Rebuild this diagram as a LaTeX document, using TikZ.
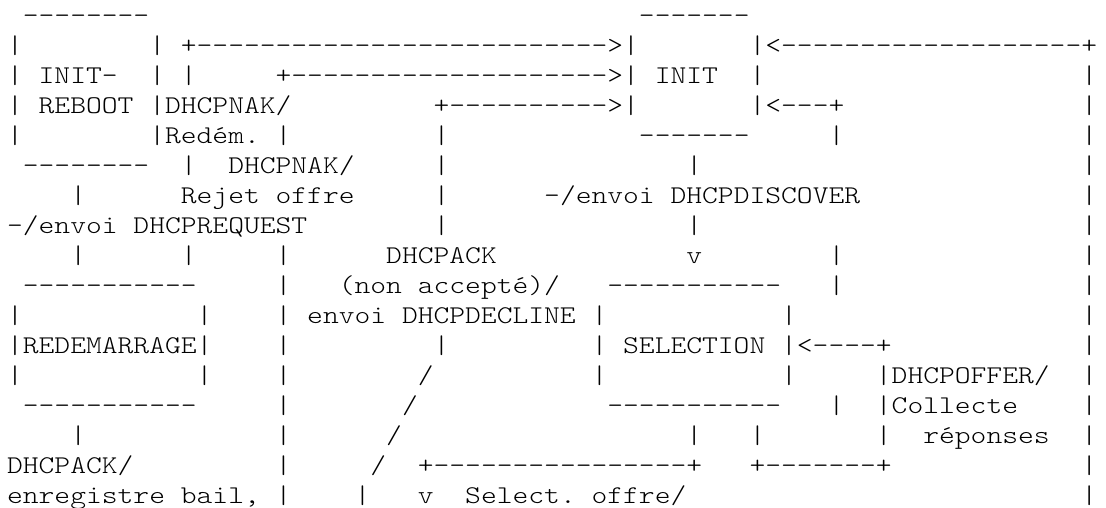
\documentclass[tikz,border=0pt]{standalone}
\usepackage{fontspec}
\usepackage{graphicx}
\newfontfamily\asciifont{lmmonolt10-regular.otf}
\newcommand\gp[1]{\hskip#1\fontdimen2\font\relax}
\newcommand\dd[1]{\foreach\k in {1,...,#1}{-}}
\tikzset{
  asciiline/.style={anchor=base west, inner sep=0pt, outer sep=0pt,
    font=\asciifont\fontsize{25.5}{30}\selectfont, text=black},
}
\newcommand\row[3]{\node[asciiline] (#1) at (7.1pt,{-23pt-30pt*#2}) {\scalebox{1.18}[1]{#3}};}
\begin{document}
\begin{tikzpicture}
\fill[white] (0,0) rectangle (1106pt,-507pt);
\useasboundingbox (0,0) rectangle (1106pt,-507pt);
\row{l0}{0}{\gp{1}\dd{8}\gp{31}\dd{7}}
\row{l1}{1}{|\gp{8}|\gp{1}+\dd{26}>|\gp{7}|<\dd{19}+}
\row{l2}{2}{|\gp{1}INIT-\gp{2}|\gp{1}|\gp{5}+\dd{20}>|\gp{1}INIT\gp{2}|\gp{20}|}
\row{l3}{3}{|\gp{1}REBOOT\gp{1}|DHCPNAK/\gp{9}+\dd{10}>|\gp{7}|<\dd{3}+\gp{15}|}
\row{l4}{4}{|\gp{8}|Redém.\gp{1}|\gp{9}|\gp{12}\dd{7}\gp{5}|\gp{15}|}
\row{l5}{5}{\gp{1}\dd{8}\gp{2}|\gp{2}DHCPNAK/\gp{5}|\gp{15}|\gp{24}|}
\row{l6}{6}{\gp{4}|\gp{6}Rejet\gp{1}offre\gp{5}|\gp{6}-/envoi\gp{1}DHCPDISCOVER\gp{14}|}
\row{l7}{7}{-/envoi\gp{1}DHCPREQUEST\gp{8}|\gp{15}|\gp{24}|}
\row{l8}{8}{\gp{4}|\gp{6}|\gp{5}|\gp{6}DHCPACK\gp{12}v\gp{8}|\gp{15}|}
\row{l9}{9}{\gp{1}\dd{11}\gp{5}|\gp{3}(non\gp{1}accepté)/\gp{3}\dd{11}\gp{3}|\gp{15}|}
\row{l10}{10}{|\gp{11}|\gp{4}|\gp{1}envoi\gp{1}DHCPDECLINE\gp{1}|\gp{11}|\gp{18}|}
\row{l11}{11}{|REDEMARRAGE|\gp{4}|\gp{9}|\gp{9}|\gp{1}SELECTION\gp{1}|<\dd{4}+\gp{12}|}
\row{l12}{12}{|\gp{11}|\gp{4}|\gp{8}/\gp{10}|\gp{11}|\gp{5}|DHCPOFFER/\gp{2}|}
\row{l13}{13}{\gp{1}\dd{11}\gp{5}|\gp{7}/\gp{12}\dd{11}\gp{3}|\gp{2}|Collecte\gp{4}|}
\row{l14}{14}{\gp{4}|\gp{12}|\gp{6}/\gp{18}|\gp{3}|\gp{7}|\gp{2}réponses\gp{2}|}
\row{l15}{15}{DHCPACK/\gp{9}|\gp{5}/\gp{2}+\dd{16}+\gp{3}+\dd{7}+\gp{12}|}
\row{l16}{16}{enregistre\gp{1}bail,\gp{1}|\gp{4}|\gp{3}v\gp{2}Select.\gp{1}offre/\gp{25}|}
\end{tikzpicture}
\end{document}
